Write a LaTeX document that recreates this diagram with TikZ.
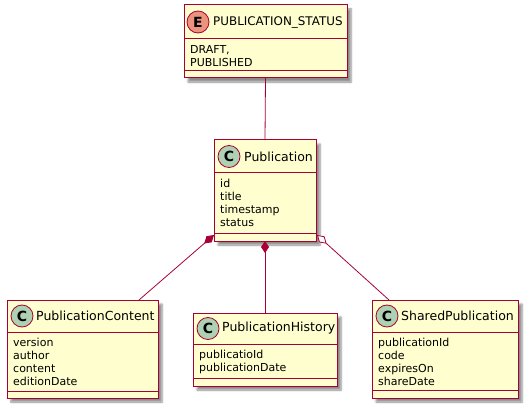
\documentclass[tikz,border=0pt]{standalone}
\usepackage{fontspec}
\setmainfont{DejaVu Sans}
\usetikzlibrary{arrows.meta,shadows.blur,calc}
\definecolor{umlfill}{HTML}{FEFECE}
\definecolor{umlline}{HTML}{A80036}
\definecolor{cgreen}{HTML}{ADD1B2}
\definecolor{ered}{HTML}{EB937F}
\tikzset{
  classbox/.style={draw=umlline, fill=umlfill, line width=1pt, inner sep=0pt, outer sep=0pt, anchor=north west,
    blur shadow={shadow xshift=4pt, shadow yshift=-4pt, shadow blur steps=6, shadow blur radius=2pt, shadow opacity=45}},
  sepline/.style={draw=umlline, line width=1pt},
  badge/.style={circle, draw=umlline, line width=0.8pt, minimum size=22pt, inner sep=0pt, font=\bfseries\fontsize{14}{14}\selectfont},
  titletext/.style={anchor=west, inner sep=0pt, font=\fontsize{12.5}{14}\selectfont},
  fieldtext/.style={anchor=north west, inner sep=0pt, align=left, font=\fontsize{11}{13}\selectfont},
  conn/.style={draw=umlline, line width=0.8pt},
}
\newcommand\fstrut{\rule{0pt}{9pt}}
% #1 name, #2 left, #3 top, #4 right, #5 bottom, #6 header sep, #7 fields sep
\newcommand\umlbox[7]{%
  \node[classbox, minimum width={(#4-#2)*1pt}, minimum height={(#5-#3)*1pt}] (#1) at (#2,#3) {};
  \draw[sepline] (#2,#6) -- (#4,#6);
  \draw[sepline] (#2,#7) -- (#4,#7);
}
\begin{document}
\begin{tikzpicture}[x=1pt,y=-1pt]
\useasboundingbox (0,0) rectangle (531,412);

% PUBLICATION_STATUS
\umlbox{stat}{184}{5}{347}{78}{39}{71}
\node[badge, fill=ered] (statb) at (198,22) {E};
\node[titletext, font=\fontsize{11.9}{14}\selectfont] (statt) at (213,22) {PUBLICATION\_STATUS};
\node[fieldtext] (statf) at (190,44) {\fstrut DRAFT,\\PUBLISHED};

% Publication
\umlbox{pub}{214}{140}{316}{241}{173}{233}
\node[badge, fill=cgreen] (pubb) at (229,156.5) {C};
\node[titletext] (pubt) at (244,156.5) {Publication};
\node[fieldtext] (pubf) at (220,178) {\fstrut id\\title\\timestamp\\status};

% PublicationContent
\umlbox{pc}{7}{300}{158}{398}{332}{391}
\node[badge, fill=cgreen] (pcb) at (22,316) {C};
\node[titletext] (pct) at (36,316) {PublicationContent};
\node[fieldtext] (pcf) at (13,337) {\fstrut version\\author\\content\\editionDate};

% PublicationHistory
\umlbox{ph}{193}{313}{337}{386}{344}{378}
\node[badge, fill=cgreen] (phb) at (208,328.5) {C};
\node[titletext] (pht) at (222,328.5) {PublicationHistory};
\node[fieldtext] (phf) at (199,349) {\fstrut publicatioId\\publicationDate};

% SharedPublication
\umlbox{sp}{372}{300}{518}{398}{332}{390}
\node[badge, fill=cgreen] (spb) at (387,316) {C};
\node[titletext] (spt) at (401,316) {SharedPublication};
\node[fieldtext] (spf) at (378,337) {\fstrut publicationId\\code\\expiresOn\\shareDate};

% connector anchor points
\coordinate (pubL) at ($(pub.south west)+(0,-6)$);
\coordinate (pubR) at ($(pub.south east)+(1,-6)$);
\coordinate (pcT) at (139,300);
\coordinate (spT) at (389,300);

\draw[conn] (stat.south) -- (pub.north);
\draw[conn, {Diamond[length=13pt,width=8pt,fill=umlline]}-] (pubL) -- (pcT);
\draw[conn, {Diamond[length=12pt,width=8pt,fill=umlline]}-] (pub.south) -- (ph.north);
\draw[conn, {Diamond[length=13pt,width=8pt,fill=white]}-] (pubR) -- (spT);
\end{tikzpicture}
\end{document}
